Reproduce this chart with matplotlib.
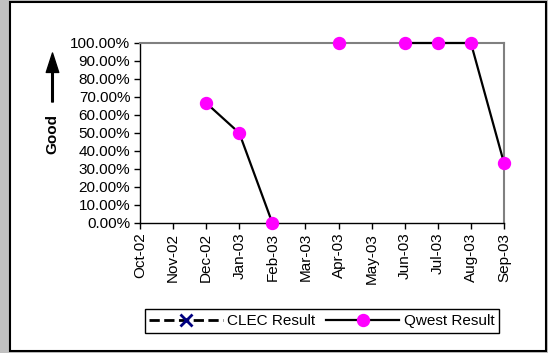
import numpy as np
import matplotlib.pyplot as plt
from matplotlib.patches import Rectangle
from matplotlib.lines import Line2D
from matplotlib.ticker import PercentFormatter

plt.rcParams["font.family"] = ["Liberation Sans", "DejaVu Sans"]
plt.rcParams["font.size"] = 11

months = ["Oct-02", "Nov-02", "Dec-02", "Jan-03", "Feb-03", "Mar-03",
          "Apr-03", "May-03", "Jun-03", "Jul-03", "Aug-03", "Sep-03"]
qwest = [np.nan, np.nan, 0.6667, 0.50, 0.0, np.nan,
         1.0, np.nan, 1.0, 1.0, 1.0, 0.3333]
clec = [np.nan] * 12

W, H = 548, 353
fig = plt.figure(figsize=(W / 100, H / 100), dpi=100, facecolor="#c0c0c0")

# white panel with black border, behind everything
fig.patches.append(Rectangle((9.5 / W, 2 / H), 536.5 / W, 349 / H,
                             transform=fig.transFigure, facecolor="white",
                             edgecolor="black", linewidth=1.5, zorder=-10))

ax = fig.add_axes([140 / W, (H - 223) / H, 364 / W, 180 / H])
ax.set_facecolor("none")
x = np.arange(len(months))
ax.plot(x, clec, "--", color="black", marker="x", mec="#000080",
        ms=8, mew=2, lw=1.5, label="CLEC Result")
ax.plot(x, qwest, "-", color="black", marker="o", mfc="#ff00ff", mec="#ff00ff",
        ms=8.6, lw=1.6, label="Qwest Result", clip_on=False, zorder=5)

ax.set_xlim(0, 11)
ax.set_ylim(0, 1)
ax.set_xticks(x)
ax.set_xticklabels(months, rotation=90)
ax.set_yticks(np.arange(0, 1.01, 0.1))
ax.yaxis.set_major_formatter(PercentFormatter(xmax=1, decimals=2))
ax.tick_params(direction="out", length=4, width=1, color="black", pad=3)

for s in ["left", "bottom"]:
    ax.spines[s].set_color("black")
    ax.spines[s].set_linewidth(1)
for s in ["top", "right"]:
    ax.spines[s].set_color("#808080")
    ax.spines[s].set_linewidth(1.5)

# "Good" label with arrow
fig.text(52 / W, (H - 134) / H, "Good", rotation=90, fontweight="bold",
         ha="center", va="center")
fig.add_artist(plt.Annotation(
    "", xy=(52.5 / W, (H - 53) / H), xytext=(52.5 / W, (H - 102) / H),
    xycoords="figure fraction", textcoords="figure fraction",
    arrowprops=dict(facecolor="black", edgecolor="black", width=1.2,
                    headwidth=9, headlength=14, shrink=0)))

handles = [Line2D([], [], ls="--", color="black", marker="x", mec="#000080",
                  ms=8, mew=2, lw=2),
           Line2D([], [], ls="-", color="black", marker="o", mfc="#ff00ff",
                  mec="#ff00ff", ms=8.6, lw=1.6)]
leg = fig.legend(handles, ["CLEC Result", "Qwest Result"], ncol=2,
                 loc="center", bbox_to_anchor=(322 / W, (H - 321) / H),
                 handlelength=4.8, handletextpad=0.3, columnspacing=0.7,
                 fancybox=False, framealpha=1, edgecolor="black",
                 borderpad=0.3)
leg.get_frame().set_linewidth(1)

fig.savefig("out.png", dpi=100, facecolor=fig.get_facecolor())
